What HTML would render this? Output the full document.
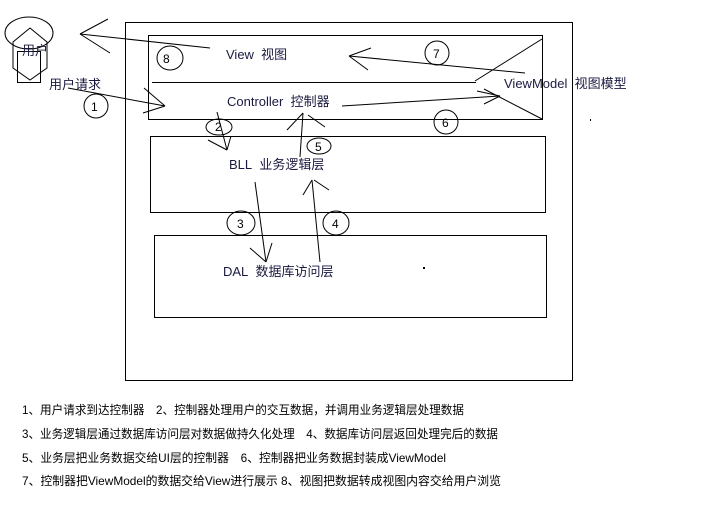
<!DOCTYPE html>
<html><head><meta charset="utf-8"><style>
html,body{margin:0;padding:0;background:#fff;width:718px;height:516px;overflow:hidden}
svg{display:block}
text{font-family:"Liberation Sans","Noto Sans CJK SC",sans-serif;font-size:12px;fill:#000}
.t{fill:#1a1a40;font-size:13px}
</style></head><body>
<svg width="718" height="516" viewBox="0 0 718 516" xmlns="http://www.w3.org/2000/svg">
<g fill="none" stroke="#000" stroke-width="1">
<rect x="125.5" y="22.5" width="447" height="358"/>
<rect x="148.5" y="35.5" width="394" height="84"/>
<line x1="152" y1="82.5" x2="476" y2="82.5"/>
<rect x="150.5" y="136.5" width="395" height="76"/>
<rect x="154.5" y="235.5" width="392" height="82"/>
<ellipse cx="29" cy="33" rx="24" ry="16"/>
<polygon points="30,28 47,42 47,68 30,80 13,68 13,42"/>
<rect x="17.5" y="51.5" width="23" height="31"/>
<line x1="210" y1="48" x2="80" y2="34"/><line x1="80" y1="34" x2="108" y2="19"/><line x1="80" y1="34" x2="110" y2="53"/>
<line x1="68" y1="88" x2="165" y2="106"/><line x1="144" y1="88" x2="165" y2="106"/><line x1="143" y1="113" x2="165" y2="106"/>
<line x1="217" y1="112" x2="227" y2="150"/><line x1="208" y1="140" x2="227" y2="150"/><line x1="231" y1="136" x2="227" y2="150"/>
<line x1="300" y1="157" x2="303" y2="113"/><line x1="287" y1="130" x2="303" y2="113"/><line x1="308" y1="115" x2="325" y2="127"/>
<line x1="255" y1="182" x2="266" y2="262"/><line x1="250" y1="248" x2="266" y2="262"/><line x1="272" y1="243" x2="266" y2="262"/>
<line x1="320" y1="262" x2="312" y2="180"/><line x1="303" y1="195" x2="312" y2="180"/><line x1="314" y1="180" x2="329" y2="190"/>
<line x1="342" y1="106" x2="500" y2="96"/><line x1="477" y1="91" x2="500" y2="96"/><line x1="484" y1="104" x2="500" y2="96"/>
<line x1="475" y1="81" x2="542" y2="39"/><line x1="484" y1="89" x2="542" y2="119"/>
<line x1="525" y1="73" x2="349" y2="56"/><line x1="349" y1="56" x2="371" y2="48"/><line x1="349" y1="56" x2="368" y2="70"/>
<ellipse cx="170" cy="58" rx="13" ry="12"/>
<ellipse cx="96" cy="106" rx="12" ry="12"/>
<ellipse cx="219" cy="127" rx="13" ry="8"/>
<ellipse cx="319" cy="146" rx="12" ry="8"/>
<ellipse cx="437" cy="53" rx="12" ry="12"/>
<ellipse cx="446" cy="122" rx="12" ry="12"/>
<ellipse cx="241" cy="223" rx="14" ry="12"/>
<ellipse cx="336" cy="223" rx="13" ry="12"/>
</g>
<rect x="590" y="119" width="1" height="2" fill="#000"/>
<rect x="423" y="267" width="2" height="2" fill="#000"/>
<text x="163" y="63">8</text><text x="91" y="111">1</text><text x="215" y="131">2</text>
<text x="315" y="151">5</text><text x="433" y="58">7</text><text x="442" y="127">6</text>
<text x="237" y="228">3</text><text x="332" y="228">4</text>
<text class="t" x="22" y="55">用户</text>
<text class="t" x="49" y="89">用户请求</text>
<text class="t" x="226" y="59">View&#160; 视图</text>
<text class="t" x="227" y="106">Controller&#160; 控制器</text>
<text class="t" x="504" y="88">ViewModel&#160; 视图模型</text>
<text class="t" x="229" y="169">BLL&#160; 业务逻辑层</text>
<text class="t" x="223" y="276">DAL&#160; 数据库访问层</text>
<text x="22" y="414" textLength="442" lengthAdjust="spacingAndGlyphs">1、用户请求到达控制器　2、控制器处理用户的交互数据，并调用业务逻辑层处理数据</text>
<text x="22" y="438" textLength="476" lengthAdjust="spacingAndGlyphs">3、业务逻辑层通过数据库访问层对数据做持久化处理　4、数据库访问层返回处理完后的数据</text>
<text x="22" y="462" textLength="424" lengthAdjust="spacingAndGlyphs">5、业务层把业务数据交给UI层的控制器　6、控制器把业务数据封装成ViewModel</text>
<text x="22" y="485" textLength="479" lengthAdjust="spacingAndGlyphs">7、控制器把ViewModel的数据交给View进行展示  8、视图把数据转成视图内容交给用户浏览</text>
</svg>
</body></html>
